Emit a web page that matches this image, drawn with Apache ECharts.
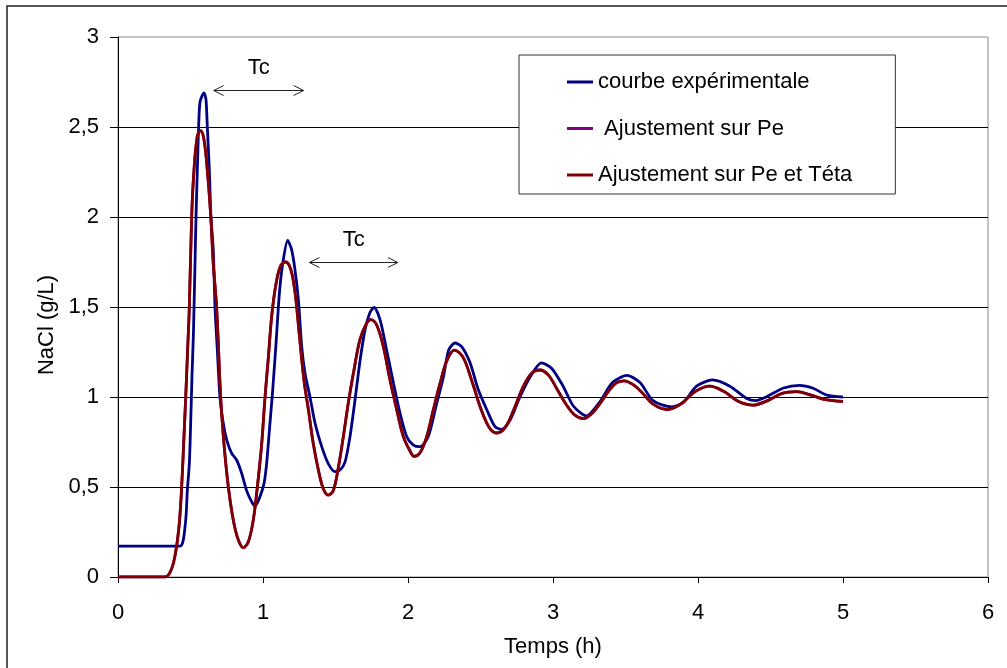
<!DOCTYPE html>
<html>
<head>
<meta charset="utf-8">
<script src="https://cdn.jsdelivr.net/npm/echarts@6/dist/echarts.min.js"></script>
<style>
  html, body { margin: 0; padding: 0; background: #fff; }
  #chart { width: 1007px; height: 668px; }
</style>
</head>
<body>
<div id="chart"></div>
<script>
// Experimental NaCl concentration (g/L) against time (h)
const expTime = [0, 0.428, 0.45, 0.469, 0.478, 0.492, 0.501, 0.51, 0.52, 0.531, 0.538, 0.547, 0.556, 0.566,
  0.593, 0.607, 0.616, 0.63, 0.641, 0.657, 0.669, 0.685, 0.703, 0.726, 0.75, 0.784, 0.818, 0.853, 0.887, 0.922,
  0.945, 0.979, 1.007, 1.025, 1.048, 1.067, 1.09, 1.113, 1.136, 1.17, 1.197, 1.22, 1.244, 1.267, 1.29, 1.324,
  1.359, 1.405, 1.45, 1.497, 1.531, 1.566, 1.6, 1.634, 1.669, 1.703, 1.738, 1.766, 1.807, 1.853, 1.9, 1.945,
  1.991, 2.037, 2.083, 2.14, 2.198, 2.244, 2.28, 2.324, 2.37, 2.428, 2.485, 2.543, 2.6, 2.646, 2.703, 2.772,
  2.841, 2.92, 2.99, 3.07, 3.14, 3.23, 3.32, 3.41, 3.51, 3.60, 3.69, 3.82, 3.90, 3.99, 4.10, 4.22, 4.34, 4.40,
  4.47, 4.59, 4.70, 4.79, 4.89, 5.0];
const expValue = [0.172, 0.172, 0.205, 0.335, 0.48, 0.63, 0.85, 1.11, 1.35, 1.74, 2.0, 2.26, 2.5, 2.64,
  2.69, 2.65, 2.5, 2.26, 2.0, 1.82, 1.5, 1.26, 1.0, 0.854, 0.76, 0.687, 0.65, 0.576, 0.48, 0.418,
  0.394, 0.446, 0.52, 0.63, 0.854, 1.04, 1.3, 1.576, 1.74, 1.87, 1.82, 1.71, 1.54, 1.28, 1.13, 1.0,
  0.854, 0.724, 0.63, 0.585, 0.594, 0.64, 0.78, 0.98, 1.2, 1.37, 1.47, 1.498, 1.43, 1.26, 1.076, 0.91,
  0.78, 0.733, 0.724, 0.78, 0.965, 1.11, 1.26, 1.30, 1.28, 1.19, 1.04, 0.93, 0.835, 0.82, 0.87, 1.0,
  1.11, 1.19, 1.16, 1.06, 0.95, 0.895, 0.97, 1.08, 1.12, 1.08, 0.98, 0.945, 0.97, 1.06, 1.095, 1.06, 0.99, 0.98,
  1.0, 1.05, 1.065, 1.05, 1.01, 1.0];

// Fitted model (Pe and Têta adjusted)
const fitTime = [0, 0.324, 0.37, 0.4, 0.423, 0.439, 0.455, 0.467, 0.48, 0.492, 0.508, 0.524, 0.547, 0.57,
  0.593, 0.616, 0.64, 0.657, 0.68, 0.708, 0.731, 0.761, 0.795, 0.83, 0.864, 0.899, 0.933, 0.961, 0.991, 1.014,
  1.037, 1.06, 1.09, 1.122, 1.156, 1.191, 1.221, 1.25, 1.283, 1.313, 1.347, 1.382, 1.416, 1.45, 1.485, 1.52,
  1.554, 1.588, 1.623, 1.669, 1.715, 1.743, 1.784, 1.83, 1.876, 1.922, 1.968, 2.014, 2.041, 2.083, 2.129,
  2.175, 2.221, 2.267, 2.32, 2.38, 2.44, 2.50, 2.56, 2.61, 2.67, 2.73, 2.79, 2.85, 2.91, 2.97, 3.03, 3.09,
  3.15, 3.21, 3.27, 3.33, 3.39, 3.44, 3.49, 3.55, 3.62, 3.69, 3.79, 3.88, 3.98, 4.08, 4.18, 4.28, 4.38, 4.48,
  4.58, 4.68, 4.78, 4.88, 5.0];
const fitValue = [0, 0, 0.046, 0.15, 0.3, 0.5, 0.78, 1.0, 1.26, 1.5, 2.0, 2.26, 2.45, 2.48,
  2.43, 2.26, 2.0, 1.74, 1.5, 1.0, 0.74, 0.5, 0.317, 0.205, 0.163, 0.196, 0.317, 0.5, 0.74, 1.0,
  1.22, 1.45, 1.63, 1.73, 1.75, 1.71, 1.58, 1.35, 1.09, 0.93, 0.74, 0.594, 0.49, 0.455, 0.48, 0.61,
  0.78, 0.965, 1.13, 1.32, 1.41, 1.43, 1.4, 1.28, 1.094, 0.93, 0.78, 0.7, 0.67, 0.69, 0.78,
  0.93, 1.076, 1.2, 1.26, 1.22, 1.09, 0.94, 0.83, 0.80, 0.83, 0.93, 1.05, 1.13, 1.15, 1.12, 1.04, 0.96,
  0.90, 0.88, 0.91, 0.97, 1.04, 1.08, 1.09, 1.07, 1.02, 0.96, 0.93, 0.96, 1.03, 1.06, 1.03, 0.975, 0.955, 0.98,
  1.02, 1.03, 1.01, 0.985, 0.975];

// Fit on Pe alone coincides with the Pe + Têta fit at this scale
const fitPeTime = fitTime;
const fitPeValue = fitValue;

// Period markers (Tc): start, end, level
const tcStart = [0.66, 1.32];
const tcEnd = [1.28, 1.93];
const tcLevel = [2.705, 1.75];
const tcText = ['Tc', 'Tc'];

const seriesNames = ['courbe expérimentale', ' Ajustement sur Pe', 'Ajustement sur Pe et Téta'];
const xTicks = [0, 1, 2, 3, 4, 5, 6];
const yTicks = [0, 0.5, 1, 1.5, 2, 2.5, 3];

const zip = (xs, ys) => xs.map((x, i) => [x, ys[i]]);
const FONT = '"Liberation Sans", Arial, sans-serif';

const chart = echarts.init(document.getElementById('chart'), null, { renderer: 'canvas' });

chart.setOption({
  animation: false,
  backgroundColor: '#fff',
  textStyle: { fontFamily: FONT },
  graphic: [{
    type: 'rect',
    shape: { x: 7, y: 6, width: 1200, height: 900 },
    style: { fill: null, stroke: '#222', lineWidth: 1.5 },
    silent: true
  }],
  grid: {
    left: 118, right: 19, top: 37, bottom: 91,
    containLabel: false,
    outerBoundsMode: 'none',
    show: true, borderColor: '#8a8a8a', borderWidth: 1, backgroundColor: 'transparent'
  },
  legend: {
    orient: 'vertical',
    left: 519, top: 55,
    padding: [16, 43, 8, 48],
    itemGap: 24.5,
    icon: 'rect',
    itemWidth: 26, itemHeight: 3,
    borderColor: '#333', borderWidth: 1, backgroundColor: '#fff',
    textStyle: { fontSize: 22, color: '#000', fontFamily: FONT },
    data: seriesNames
  },
  xAxis: {
    type: 'value',
    min: xTicks[0], max: xTicks[xTicks.length - 1], interval: 1,
    name: 'Temps (h)', nameLocation: 'middle', nameGap: 59,
    nameTextStyle: { fontSize: 22, color: '#000', fontFamily: FONT },
    axisLine: { lineStyle: { color: '#000', width: 1 } },
    axisTick: { show: true, length: 6, lineStyle: { color: '#000' } },
    axisLabel: { fontSize: 22, color: '#000', margin: 25, fontFamily: FONT },
    splitLine: { show: false }
  },
  yAxis: {
    type: 'value',
    min: yTicks[0], max: yTicks[yTicks.length - 1], interval: 0.5,
    name: 'NaCl (g/L)', nameLocation: 'middle', nameGap: 60,
    nameTextStyle: { fontSize: 22, color: '#000', fontFamily: FONT, padding: [0, 36, 0, 0] },
    axisLine: { show: true, lineStyle: { color: '#000', width: 1 } },
    axisTick: { show: true, length: 8, lineStyle: { color: '#000' } },
    axisLabel: {
      fontSize: 22, color: '#000', margin: 19, fontFamily: FONT,
      formatter: v => String(v).replace('.', ',')
    },
    splitLine: { show: true, showMinLine: false, showMaxLine: false, lineStyle: { color: '#000', width: 1 } }
  },
  series: [
    {
      name: seriesNames[0], type: 'line', data: zip(expTime, expValue),
      symbol: 'none', smooth: 0.25, z: 3,
      lineStyle: { color: '#000080', width: 2.8 }, itemStyle: { color: '#000080' }
    },
    {
      name: seriesNames[1], type: 'line', data: zip(fitPeTime, fitPeValue),
      symbol: 'none', smooth: 0.35, z: 4,
      lineStyle: { color: '#800080', width: 2.8 }, itemStyle: { color: '#800080' }
    },
    {
      name: seriesNames[2], type: 'line', data: zip(fitTime, fitValue),
      symbol: 'none', smooth: 0.35, z: 5,
      lineStyle: { color: '#800000', width: 2.8 }, itemStyle: { color: '#800000' }
    },
    {
      name: 'Tc', type: 'custom', z: 6,
      encode: { x: [0, 1], y: 2 },
      data: tcStart.map((s, i) => [s, tcEnd[i], tcLevel[i], tcText[i]]),
      renderItem: (params, api) => {
        const a = api.coord([api.value(0), api.value(2)]);
        const b = api.coord([api.value(1), api.value(2)]);
        const y = Math.round(a[1]) + 0.5;
        const hw = 10, hh = 5;
        const st = { stroke: '#222', lineWidth: 1, fill: null };
        return {
          type: 'group',
          children: [
            { type: 'line', shape: { x1: a[0], y1: y, x2: b[0], y2: y }, style: st },
            { type: 'polyline', shape: { points: [[a[0] + hw, y - hh], [a[0], y], [a[0] + hw, y + hh]] }, style: st },
            { type: 'polyline', shape: { points: [[b[0] - hw, y - hh], [b[0], y], [b[0] - hw, y + hh]] }, style: st },
            {
              type: 'text',
              style: {
                text: api.value(3), x: (a[0] + b[0]) / 2, y: y - 23,
                align: 'center', verticalAlign: 'middle',
                font: '22px ' + FONT, fill: '#000'
              }
            }
          ]
        };
      }
    }
  ]
});
</script>
</body>
</html>
